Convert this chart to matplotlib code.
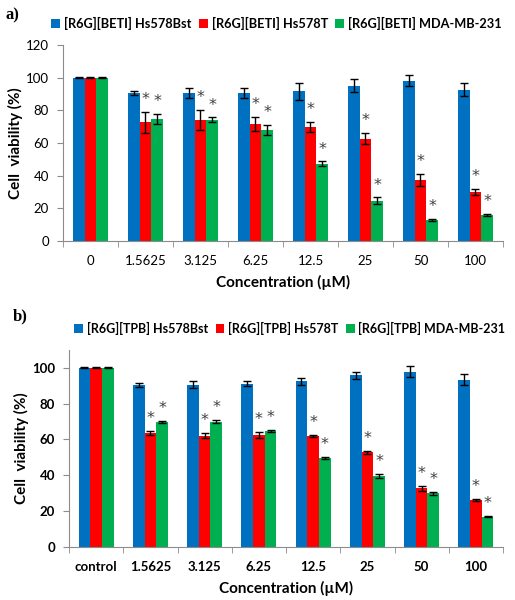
import matplotlib
matplotlib.use('Agg')
import matplotlib.pyplot as plt
import numpy as np

plt.rcParams['font.family'] = ['Lato', 'DejaVu Sans']

# panel a) [R6G][BETI]
conc_a = ['0', '1.5625', '3.125', '6.25', '12.5', '25', '50', '100']
beti_bst = [100, 90.6, 90.6, 90.6, 91.6, 95.1, 98.2, 92.6]
beti_bst_err = [0.3, 1.5, 3, 3, 5, 4, 3.5, 4]
beti_t = [100, 72.6, 74.2, 71.6, 69.7, 62.6, 37.4, 29.9]
beti_t_err = [0.3, 6.5, 6, 4.5, 3, 3.5, 3.5, 2]
beti_mda = [100, 74.8, 74.2, 68.1, 47.2, 24.7, 12.9, 16.0]
beti_mda_err = [0.3, 3, 1.5, 3, 1.5, 2, 0.5, 0.7]
beti_star_t = [False, True, True, True, True, True, True, True]
beti_star_mda = [False, True, True, True, True, True, True, True]

# panel b) [R6G][TPB]
conc_b = ['control', '1.5625', '3.125', '6.25', '12.5', '25', '50', '100']
tpb_bst = [100, 90.5, 90.6, 91.2, 92.4, 95.9, 97.8, 93.4]
tpb_bst_err = [0.3, 1, 2, 1.5, 2, 2, 3, 3]
tpb_t = [100, 63.6, 62.1, 62.3, 61.8, 52.7, 32.7, 26.2]
tpb_t_err = [0.3, 1.2, 1.3, 1.7, 0.5, 1, 1.5, 0.4]
tpb_mda = [100, 69.8, 70.0, 64.9, 49.6, 39.6, 29.8, 16.8]
tpb_mda_err = [0.3, 0.5, 1, 0.5, 0.5, 1, 1, 0.4]
tpb_star_t = [False, True, True, True, True, True, True, True]
tpb_star_mda = [False, True, True, True, True, True, True, True]

colors = ['#0070C0', '#FF0000', '#00B050']
spine_col = '#8C8C8C'


def panel(ax, cats, series, errs, stars, labels, ymax, yticks, bold_ticks, leg_x, leg_size):
    x = np.arange(len(cats))
    w = 0.215
    for k, (vals, err, col, lab) in enumerate(zip(series, errs, colors, labels)):
        xs = x + (k - 1) * w
        ax.bar(xs, vals, w, color=col, label=lab, zorder=2)
        ax.errorbar(xs, vals, yerr=err, fmt='none', ecolor='black',
                    elinewidth=1, capsize=3, capthick=1, zorder=3)
        if k > 0:
            for xi, v, e, s in zip(xs, vals, err, stars[k - 1]):
                if s:
                    ax.annotate('*', (xi, v + e), xytext=(0, 3.5), textcoords='offset points',
                                ha='center', va='bottom', fontsize=11.5, color='#404040',
                                family='DejaVu Sans')
    ax.set_xlim(-0.5, len(cats) - 0.5)
    ax.set_ylim(0, ymax)
    ax.set_yticks(yticks)
    ax.set_xticks(x)
    wt = 'bold' if bold_ticks else 'normal'
    ax.set_xticklabels(cats, fontsize=9.5, fontweight=wt)
    ax.set_yticklabels([str(t) for t in yticks], fontsize=9.5, fontweight=wt)
    ax.set_xticks(np.arange(-0.5, len(cats)), minor=True)
    ax.tick_params(axis='x', which='major', length=0, pad=10)
    ax.tick_params(axis='x', which='minor', length=4, color=spine_col, direction='out')
    ax.tick_params(axis='y', length=4, color=spine_col, direction='out', pad=6)
    for s in ['top', 'right']:
        ax.spines[s].set_visible(False)
    for s in ['left', 'bottom']:
        ax.spines[s].set_color(spine_col)
    ax.set_ylabel('Cell  viability (%)', fontsize=11, fontweight='bold', labelpad=2)
    ax.set_xlabel('Concentration (µM)', fontsize=11, fontweight='bold', labelpad=6)
    ax.legend(loc='lower center', bbox_to_anchor=(leg_x, 1.05), ncol=3, frameon=False,
              prop={'weight': 'bold', 'size': leg_size}, handlelength=0.7,
              handleheight=0.7, handletextpad=0.3, columnspacing=0.6, borderaxespad=0)


fig = plt.figure(figsize=(5.15, 6.0), dpi=100)
ax1 = fig.add_axes([0.1223, 0.5983, 0.8544, 0.3267])
ax2 = fig.add_axes([0.134, 0.0888, 0.8427, 0.3279])

panel(ax1, conc_a, [beti_bst, beti_t, beti_mda], [beti_bst_err, beti_t_err, beti_mda_err],
      [beti_star_t, beti_star_mda],
      ['[R6G][BETI] Hs578Bst', '[R6G][BETI] Hs578T', '[R6G][BETI] MDA-MB-231'],
      120, [0, 20, 40, 60, 80, 100, 120], False, 0.485, 9.2)
panel(ax2, conc_b, [tpb_bst, tpb_t, tpb_mda], [tpb_bst_err, tpb_t_err, tpb_mda_err],
      [tpb_star_t, tpb_star_mda],
      ['[R6G][TPB] Hs578Bst', '[R6G][TPB] Hs578T', '[R6G][TPB] MDA-MB-231'],
      110, [0, 20, 40, 60, 80, 100], True, 0.509, 9.0)

fig.text(0.01, 0.975, 'a)', family='Liberation Serif', fontweight='bold', fontsize=12, va='center')
fig.text(0.025, 0.472, 'b)', family='Liberation Serif', fontweight='bold', fontsize=12, va='center')

fig.savefig('out.png', dpi=100, facecolor='white')
